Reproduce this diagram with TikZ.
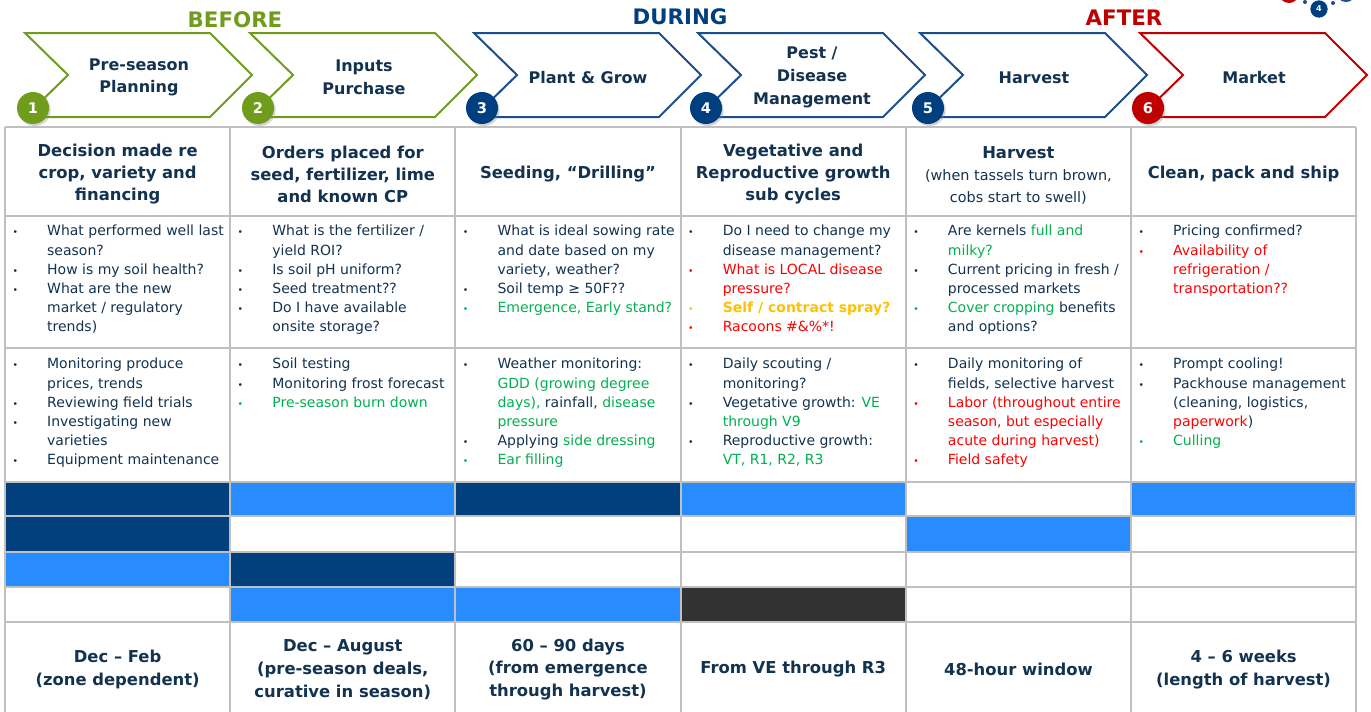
\documentclass[tikz,border=0pt]{standalone}
\usepackage{fontspec}
\setmainfont{DejaVu Sans}
\usetikzlibrary{shadows}

\definecolor{cgrn}{RGB}{112,156,28}
\definecolor{cblu}{RGB}{27,78,140}
\definecolor{cnav}{RGB}{0,63,127}
\definecolor{cred}{RGB}{192,0,0}
\definecolor{tnav}{RGB}{18,50,80}
\definecolor{tgrn}{RGB}{0,176,80}
\definecolor{tred}{RGB}{255,0,0}
\definecolor{torg}{RGB}{255,192,0}
\definecolor{bardark}{RGB}{2,63,125}
\definecolor{barlight}{RGB}{40,140,255}
\definecolor{bargray}{RGB}{50,50,50}
\definecolor{gridgray}{RGB}{192,192,192}

\newcommand{\blt}[1]{\textcolor{#1}{\fontsize{7}{7}\selectfont\textbullet}}

\tikzset{
  every picture/.style={line width=0.75pt},
  chev/.style={line width=1.5pt, fill=white, line join=miter},
  chevtext/.style={text=tnav, font=\fontsize{12}{17}\selectfont\bfseries, align=center, inner sep=0pt},
  stepnum/.style={circle, minimum size=24pt, inner sep=0pt, text=white, font=\fontsize{11}{11}\selectfont\bfseries,
    drop shadow={opacity=0.35, shadow xshift=1.2pt, shadow yshift=-1.5pt}},
  phase/.style={font=\fontsize{16}{16}\selectfont\bfseries, inner sep=0pt},
  headcell/.style={text=tnav, font=\fontsize{12.3}{16.5}\selectfont\bfseries, align=center, inner sep=0pt},
  listcell/.style={anchor=north west, text=tnav, font=\fontsize{10.5}{14.4}\selectfont, inner sep=0pt},
  timecell/.style={text=tnav, font=\fontsize{12.3}{17.2}\selectfont\bfseries, align=center, inner sep=0pt},
  bard/.style={fill=bardark}, barl/.style={fill=barlight}, barg/.style={fill=bargray}, barw/.style={fill=white},
  gridline/.style={draw=gridgray, line width=1.5pt}
}

\begin{document}
\begin{tikzpicture}[x=0.75pt,y=0.75pt,yscale=-1,xscale=1]
\useasboundingbox (0,0) rectangle (1371,711);

% logo remnant, top right
\fill[cred] (1289,-7) circle (10);
\fill[cblu] (1305,2) circle (2) (1333,3) circle (2);
\fill[cblu] (1346,-8) circle (10);
\node[circle, fill=cnav, text=white, minimum size=13pt, inner sep=0pt, font=\fontsize{6}{6}\selectfont\bfseries] (logo) at (1319,9) {4};

% phase labels
\node[phase, text=cgrn] (before) at (235,20) {BEFORE};
\node[phase, text=cnav] (during) at (680,17) {DURING};
\node[phase, text=cred] (after) at (1124,18) {AFTER};

% chevrons with step numbers
\foreach \x/\c/\cc/\n/\t in {25/cgrn/cgrn/1/{Pre-season\\Planning}, 250/cgrn/cgrn/2/{Inputs\\Purchase},
    474/cblu/cnav/3/{Plant \& Grow}, 698/cblu/cnav/4/{Pest /\\Disease\\Management},
    920/cblu/cnav/5/{Harvest}, 1140/cred/cred/6/{Market}}
{
  \draw[chev, draw=\c] (\x,33) -- ++(185,0) -- ++(42,42) -- ++(-42,42) -- ++(-185,0) -- ++(43,-42) -- cycle;
  \node[chevtext] (ch\n) at (\x+114,77.5) {\t};
  \node[stepnum, fill=\cc] (n\n) at (\x+8,108) {\n};
}

% timeline bars
\foreach \y/\row in {481.5/{d,l,d,l,w,l}, 516/{d,w,w,w,l,w}, 551.5/{l,d,w,w,w,w}, 587/{w,l,l,g,w,w}}
{
  \foreach \f [count=\c] in \row
    \path[bar\f] ({5+225.2*(\c-1)},\y) rectangle ++(225.2,35.5);
}

% grid
\foreach \y in {127,216,348,481.5,516,551.5,587,622}
  \draw[gridline] (5,\y) -- (1356,\y);
\foreach \c in {0,...,6}
  \draw[gridline] ({5+225.2*\c},127) -- ({5+225.2*\c},712);

% header row
\node[headcell] (h1) at (117.6,174.5) {Decision made re\\crop, variety and\\financing};
\node[headcell] (h2) at (342.8,174.5) {Orders placed for\\seed, fertilizer, lime\\and known CP};
\node[headcell] (h3) at (568,174) {Seeding, “Drilling”};
\node[headcell] (h4) at (793.2,174.5) {Vegetative and\\Reproductive growth\\sub cycles};
\node[headcell] (h5) at (1018.4,175) {Harvest\\{\fontsize{10.8}{14.4}\selectfont\mdseries (when tassels turn brown,}\\{\fontsize{10.8}{14.4}\selectfont\mdseries cobs start to swell)}};
\node[headcell] (h6) at (1243.6,174) {Clean, pack and ship};

% questions row
\node[listcell] (q1) at (12,222) {\begin{tabular}{@{}p{26pt}@{}l@{}}
\blt{tnav} & What performed well last\\
 & season?\\
\blt{tnav} & How is my soil health?\\
\blt{tnav} & What are the new\\
 & market / regulatory\\
 & trends)
\end{tabular}};
\node[listcell] (q2) at (237.2,222) {\begin{tabular}{@{}p{26pt}@{}l@{}}
\blt{tnav} & What is the fertilizer /\\
 & yield ROI?\\
\blt{tnav} & Is soil pH uniform?\\
\blt{tnav} & Seed treatment??\\
\blt{tnav} & Do I have available\\
 & onsite storage?
\end{tabular}};
\node[listcell] (q3) at (462.4,222) {\begin{tabular}{@{}p{26pt}@{}l@{}}
\blt{tnav} & What is ideal sowing rate\\
 & and date based on my\\
 & variety, weather?\\
\blt{tnav} & Soil temp ≥ 50F??\\
\blt{tgrn} & \textcolor{tgrn}{Emergence, Early stand?}
\end{tabular}};
\node[listcell] (q4) at (687.6,222) {\begin{tabular}{@{}p{26pt}@{}l@{}}
\blt{tnav} & Do I need to change my\\
 & disease management?\\
\blt{tred} & \textcolor{tred}{What is LOCAL disease}\\
 & \textcolor{tred}{pressure?}\\
\blt{torg} & \textcolor{torg}{\bfseries Self / contract spray?}\\
\blt{tred} & \textcolor{tred}{Racoons \#\&\%*!}
\end{tabular}};
\node[listcell] (q5) at (912.8,222) {\begin{tabular}{@{}p{26pt}@{}l@{}}
\blt{tnav} & Are kernels \textcolor{tgrn}{full and}\\
 & \textcolor{tgrn}{milky?}\\
\blt{tnav} & Current pricing in fresh /\\
 & processed markets\\
\blt{tgrn} & \textcolor{tgrn}{Cover cropping} benefits\\
 & and options?
\end{tabular}};
\node[listcell] (q6) at (1138,222) {\begin{tabular}{@{}p{26pt}@{}l@{}}
\blt{tnav} & Pricing confirmed?\\
\blt{tred} & \textcolor{tred}{Availability of}\\
 & \textcolor{tred}{refrigeration /}\\
 & \textcolor{tred}{transportation??}
\end{tabular}};

% activities row
\node[listcell] (a1) at (12,355) {\begin{tabular}{@{}p{26pt}@{}l@{}}
\blt{tnav} & Monitoring produce\\
 & prices, trends\\
\blt{tnav} & Reviewing field trials\\
\blt{tnav} & Investigating new\\
 & varieties\\
\blt{tnav} & Equipment maintenance
\end{tabular}};
\node[listcell] (a2) at (237.2,355) {\begin{tabular}{@{}p{26pt}@{}l@{}}
\blt{tnav} & Soil testing\\
\blt{tnav} & Monitoring frost forecast\\
\blt{tgrn} & \textcolor{tgrn}{Pre-season burn down}
\end{tabular}};
\node[listcell] (a3) at (462.4,355) {\begin{tabular}{@{}p{26pt}@{}l@{}}
\blt{tnav} & Weather monitoring:\\
 & \textcolor{tgrn}{GDD (growing degree}\\
 & \textcolor{tgrn}{days),} rainfall, \textcolor{tgrn}{disease}\\
 & \textcolor{tgrn}{pressure}\\
\blt{tnav} & Applying \textcolor{tgrn}{side dressing}\\
\blt{tgrn} & \textcolor{tgrn}{Ear filling}
\end{tabular}};
\node[listcell] (a4) at (687.6,355) {\begin{tabular}{@{}p{26pt}@{}l@{}}
\blt{tnav} & Daily scouting /\\
 & monitoring?\\
\blt{tnav} & Vegetative growth: \textcolor{tgrn}{VE}\\
 & \textcolor{tgrn}{through V9}\\
\blt{tnav} & Reproductive growth:\\
 & \textcolor{tgrn}{VT, R1, R2, R3}
\end{tabular}};
\node[listcell] (a5) at (912.8,355) {\begin{tabular}{@{}p{26pt}@{}l@{}}
\blt{tnav} & Daily monitoring of\\
 & fields, selective harvest\\
\blt{tred} & \textcolor{tred}{Labor (throughout entire}\\
 & \textcolor{tred}{season, but especially}\\
 & \textcolor{tred}{acute during harvest)}\\
\blt{tred} & \textcolor{tred}{Field safety}
\end{tabular}};
\node[listcell] (a6) at (1138,355) {\begin{tabular}{@{}p{26pt}@{}l@{}}
\blt{tnav} & Prompt cooling!\\
\blt{tnav} & Packhouse management\\
 & (cleaning, logistics,\\
 & \textcolor{tred}{paperwork})\\
\blt{tgrn} & \textcolor{tgrn}{Culling}
\end{tabular}};

% timing row
\node[timecell] (t1) at (117.6,669.5) {Dec – Feb\\(zone dependent)};
\node[timecell] (t2) at (342.8,669.5) {Dec – August\\(pre-season deals,\\curative in season)};
\node[timecell] (t3) at (568,669.5) {60 – 90 days\\(from emergence\\through harvest)};
\node[timecell] (t4) at (793.2,669) {From VE through R3};
\node[timecell] (t5) at (1018.4,669) {48-hour window};
\node[timecell] (t6) at (1243.6,669.5) {4 – 6 weeks\\(length of harvest)};

\end{tikzpicture}
\end{document}
